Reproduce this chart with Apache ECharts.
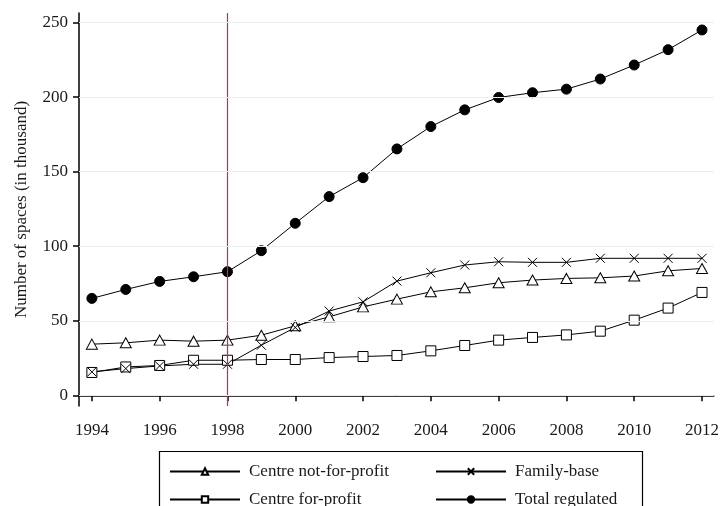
<!DOCTYPE html>
<html>
<head>
<meta charset="utf-8">
<title>Number of spaces</title>
<script src="https://cdn.jsdelivr.net/npm/echarts@6/dist/echarts.min.js"></script>
<style>
  body { margin: 0; background: #fff; }
  #chart { width: 722px; height: 506px; }
</style>
</head>
<body>
<div id="chart"></div>
<script>
// data (thousands of spaces)
var years = [1994, 1995, 1996, 1997, 1998, 1999, 2000, 2001, 2002, 2003,
             2004, 2005, 2006, 2007, 2008, 2009, 2010, 2011, 2012];
var notForProfit = [34.3, 35.2, 37.0, 36.3, 37.0, 40.3, 46.6, 52.6, 59.3, 64.5,
                    69.4, 72.1, 75.5, 77.3, 78.4, 78.8, 80.0, 83.5, 85.1];
var familyBase = [15.7, 17.9, 19.7, 20.8, 20.8, 33.6, 45.5, 56.5, 62.7, 76.6,
                  82.2, 87.4, 89.6, 89.2, 89.2, 91.9, 91.9, 91.9, 91.9];
var forProfit = [15.3, 19.0, 20.0, 23.5, 23.5, 24.0, 24.0, 25.3, 26.0, 26.7,
                 29.8, 33.4, 37.0, 38.8, 40.5, 43.0, 50.4, 58.5, 69.0];
var totalRegulated = [65.0, 71.0, 76.4, 79.5, 82.9, 97.0, 115.4, 133.3, 146.0, 165.3,
                      180.3, 191.5, 199.8, 203.0, 205.4, 212.2, 221.6, 231.9, 245.1];
var xTicks = [1994, 1996, 1998, 2000, 2002, 2004, 2006, 2008, 2010, 2012];
var yTicks = [0, 50, 100, 150, 200, 250];
var policyYear = 1998;

function pairs(vals) {
  return years.map(function (y, i) { return [y, vals[i]]; });
}

var font = 'Liberation Serif';
var txt = { fontFamily: font, fontSize: 17, color: '#1a1a1a' };

// one legend per entry so the 2x2 box lines up like the original
function legendAt(name, left, top) {
  return {
    left: left, top: top, orient: 'horizontal',
    itemWidth: 70, itemHeight: 8, itemGap: 0,
    textStyle: Object.assign({ padding: [0, 0, 0, 4] }, txt),
    data: [name]
  };
}

var chart = echarts.init(document.getElementById('chart'));
var base = {
  type: 'line',
  color: '#000',
  lineStyle: { color: '#000', width: 1 },
  showSymbol: true,
  animation: false
};

var option = {
  backgroundColor: '#fff',
  animation: false,
  grid: { left: 79, right: 6, top: 13, bottom: 100 },
  xAxis: {
    type: 'value',
    min: 1993.62,
    max: 2012.35,
    axisLine: { lineStyle: { color: '#000', width: 1.5 } },
    axisTick: { show: true, length: 6, customValues: xTicks, lineStyle: { color: '#000', width: 1.5 } },
    axisLabel: Object.assign({
      customValues: xTicks, margin: 16,
      formatter: function (v) { return String(v); }
    }, txt),
    splitLine: { show: false }
  },
  yAxis: {
    type: 'value',
    min: -7.2,
    max: 256.5,
    name: 'Number of spaces (in thousand)',
    nameLocation: 'middle',
    nameGap: 49,
    nameTextStyle: txt,
    axisLine: { show: true, lineStyle: { color: '#000', width: 1.5 } },
    axisTick: { show: true, length: 6, customValues: yTicks, lineStyle: { color: '#000', width: 1.5 } },
    axisLabel: Object.assign({ customValues: yTicks, margin: 11 }, txt),
    splitLine: { show: false }
  },
  legend: [
    legendAt('Centre not-for-profit', 164, 458),
    legendAt('Centre for-profit', 164, 486),
    legendAt('Family-base', 430, 458),
    legendAt('Total regulated', 430, 486)
  ],
  graphic: [
    {
      type: 'rect', left: 157, top: 449, silent: true,
      shape: { width: 483, height: 90 },
      style: { fill: 'none', stroke: '#000', lineWidth: 1.2 }
    }
  ],
  series: [
    Object.assign({}, base, {
      name: 'Centre not-for-profit',
      data: pairs(notForProfit),
      symbol: 'triangle', symbolSize: [11, 10],
      itemStyle: { color: '#fff', borderColor: '#000', borderWidth: 1 }
    }),
    Object.assign({}, base, {
      name: 'Centre for-profit',
      data: pairs(forProfit),
      symbol: 'rect', symbolSize: 10,
      itemStyle: { color: '#fff', borderColor: '#000', borderWidth: 1 }
    }),
    Object.assign({}, base, {
      name: 'Family-base',
      data: pairs(familyBase),
      symbol: 'path://M0,0L10,10M10,0L0,10', symbolSize: 9,
      itemStyle: { color: 'none', borderColor: '#000', borderWidth: 1 }
    }),
    Object.assign({}, base, {
      name: 'Total regulated',
      data: pairs(totalRegulated),
      symbol: 'circle', symbolSize: 10,
      itemStyle: { color: '#000', borderColor: '#000', borderWidth: 1 },
      markLine: {
        silent: true, symbol: 'none',
        label: { show: false },
        lineStyle: { color: '#cc2a44', width: 1.2, type: 'solid' },
        data: [{ xAxis: policyYear }]
      }
    }),
    // light gridlines at the y ticks
    {
      type: 'line', data: [], silent: true,
      markLine: {
        silent: true, symbol: 'none',
        label: { show: false },
        lineStyle: { color: '#e6eef2', width: 1, type: 'solid' },
        data: yTicks.map(function (v) { return { yAxis: v }; })
      },
      z: 0
    }
  ]
};
chart.setOption(option);
</script>
</body>
</html>
